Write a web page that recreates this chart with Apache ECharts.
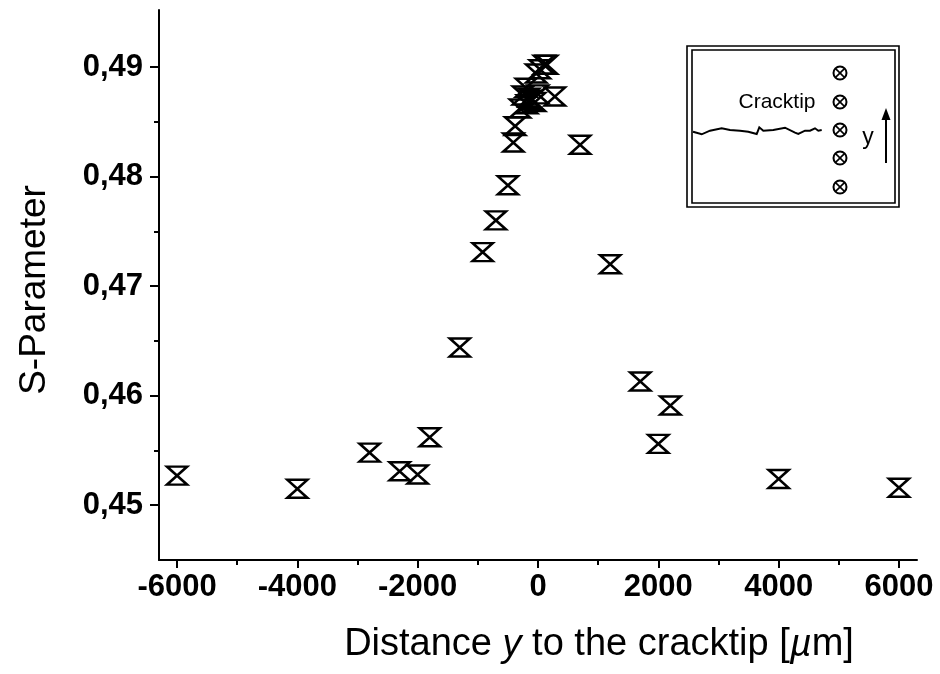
<!DOCTYPE html>
<html>
<head>
<meta charset="utf-8">
<script src="https://cdn.jsdelivr.net/npm/echarts@6/dist/echarts.min.js"></script>
<style>
html,body{margin:0;padding:0;background:#fff;}
#chart{width:940px;height:674px;}
</style>
</head>
<body>
<div id="chart"></div>
<script>
// Distance y to the cracktip [µm]
const distance = [-6000, -4000, -2800, -2300, -2000, -1800, -1300, -920, -700, -500, -410, -380,
  -300, -250, -200, -180, -150, -100, -50, 0, -30, 30, 100, 150, 280, 700, 1200, 1700, 2000, 2200, 4000, 6000];
// S-Parameter
const sParam = [0.4527, 0.4515, 0.4548, 0.4531, 0.4528, 0.4562, 0.4644, 0.4731, 0.4760, 0.4792, 0.4831, 0.4846,
  0.4862, 0.4874, 0.4881, 0.4866, 0.4872, 0.4870, 0.4868, 0.4875, 0.4894, 0.4898, 0.4902, 0.4902, 0.4873, 0.4829, 0.4720, 0.4613, 0.4556, 0.4591, 0.4524, 0.4516];

const xMajorTicks = [-6000, -4000, -2000, 0, 2000, 4000, 6000];
const xMinorTicks = [-5000, -3000, -1000, 1000, 3000, 5000];
const yMajorTicks = [0.45, 0.46, 0.47, 0.48, 0.49];
const yMinorTicks = [0.455, 0.465, 0.475, 0.485];

const points = distance.map((d, i) => [d, sParam[i]]);

const FONT = 'Liberation Sans, Arial, sans-serif';
const xRange = {min: -6300, max: 6300};
const yRange = {min: 0.445, max: 0.4952};

const chart = echarts.init(document.getElementById('chart'), null, {renderer: 'canvas'});

// inset drawing (schematic)
const crack = [[693,131.7],[701.7,134.3],[710,130.7],[721.7,128.3],[730,130],[740,130.7],[748.3,131.7],[756.7,134],
  [759.3,127.3],[763.3,130.7],[773.3,130],[785,127.7],[795,132.7],[798.3,134],[805,130.7],[810,130.7],[815,128.3],[818.3,130.7],[821.7,130]];
const circleYs = [73, 102, 130, 158, 187];
const insetEls = [
  {type:'rect', shape:{x:687, y:46, width:212, height:161}, style:{fill:'#fff', stroke:'#000', lineWidth:1.6}, z:10},
  {type:'rect', shape:{x:692, y:50, width:203, height:153}, style:{fill:'none', stroke:'#000', lineWidth:1.6}, z:11},
  {type:'polyline', shape:{points:crack}, style:{fill:'none', stroke:'#000', lineWidth:2}, z:11},
  {type:'text', x:777, y:102, style:{text:'Cracktip', font:'21px ' + FONT, fill:'#000', align:'center', verticalAlign:'middle'}, z:11},
  {type:'text', x:868, y:138, style:{text:'y', font:'23px ' + FONT, fill:'#000', align:'center', verticalAlign:'middle'}, z:11},
  {type:'line', shape:{x1:886, y1:163, x2:886, y2:116}, style:{stroke:'#000', lineWidth:2}, z:11},
  {type:'polygon', shape:{points:[[886,108],[881.5,120],[890.5,120]]}, style:{fill:'#000'}, z:11}
];
circleYs.forEach(cy => {
  const r = 6.5, d = r * 0.72;
  insetEls.push({type:'circle', shape:{cx:840, cy:cy, r:r}, style:{fill:'none', stroke:'#000', lineWidth:2}, z:11});
  insetEls.push({type:'line', shape:{x1:840-d, y1:cy-d, x2:840+d, y2:cy+d}, style:{stroke:'#000', lineWidth:1.6}, z:11});
  insetEls.push({type:'line', shape:{x1:840-d, y1:cy+d, x2:840+d, y2:cy-d}, style:{stroke:'#000', lineWidth:1.6}, z:11});
});

const option = {
  backgroundColor: '#fff',
  animation: false,
  grid: {left: 159, right: 23, top: 10, bottom: 114},
  xAxis: [
    {
      type: 'value', min: xRange.min, max: xRange.max,
      axisLine: {show: true, onZero: false, lineStyle: {color: '#000', width: 2}},
      axisTick: {show: true, inside: false, length: 8, customValues: xMajorTicks, lineStyle: {color: '#000', width: 2}},
      axisLabel: {show: true, customValues: xMajorTicks, margin: 12, color: '#000', fontFamily: FONT, fontWeight: 'bold', fontSize: 31,
        formatter: v => String(v)},
      splitLine: {show: false}
    },
    {
      type: 'value', min: xRange.min, max: xRange.max, position: 'bottom', gridIndex: 0,
      axisLine: {show: false, onZero: false},
      axisTick: {show: true, inside: false, length: 5, customValues: xMinorTicks, lineStyle: {color: '#000', width: 2}},
      axisLabel: {show: false},
      splitLine: {show: false}
    }
  ],
  yAxis: [
    {
      type: 'value', min: yRange.min, max: yRange.max,
      axisLine: {show: true, onZero: false, lineStyle: {color: '#000', width: 2}},
      axisTick: {show: true, inside: false, length: 9, customValues: yMajorTicks, lineStyle: {color: '#000', width: 2}},
      axisLabel: {show: true, customValues: yMajorTicks, margin: 16, color: '#000', fontFamily: FONT, fontWeight: 'bold', fontSize: 31,
        formatter: v => v.toFixed(2).replace('.', ',')},
      splitLine: {show: false}
    },
    {
      type: 'value', min: yRange.min, max: yRange.max, position: 'left', gridIndex: 0,
      axisLine: {show: false, onZero: false},
      axisTick: {show: true, inside: false, length: 5, customValues: yMinorTicks, lineStyle: {color: '#000', width: 2}},
      axisLabel: {show: false},
      splitLine: {show: false}
    }
  ],
  series: [{
    type: 'scatter',
    xAxisIndex: 0, yAxisIndex: 0,
    data: points,
    symbol: 'path://M0,0L20,0L0,18L20,18Z',
    symbolSize: [20, 18],
    itemStyle: {color: 'rgba(0,0,0,0)', borderColor: '#000', borderWidth: 2.6, opacity: 1},
    z: 5
  }],
  graphic: [
    {type:'text', x:599, y:645, style:{
      text:'Distance {i|y} to the cracktip [{i|µ}m]',
      font: '38px ' + FONT, fill:'#000', align:'center', verticalAlign:'middle',
      rich: {i: {fontStyle:'italic', fontSize:38, fontFamily: FONT, fill:'#000'}}
    }},
    {type:'text', x:35, y:290, rotation: Math.PI/2, style:{
      text:'S-Parameter', font:'37px ' + FONT, fill:'#000', align:'center', verticalAlign:'middle'
    }},
    {type:'group', children: insetEls}
  ]
};
chart.setOption(option);
</script>
</body>
</html>
